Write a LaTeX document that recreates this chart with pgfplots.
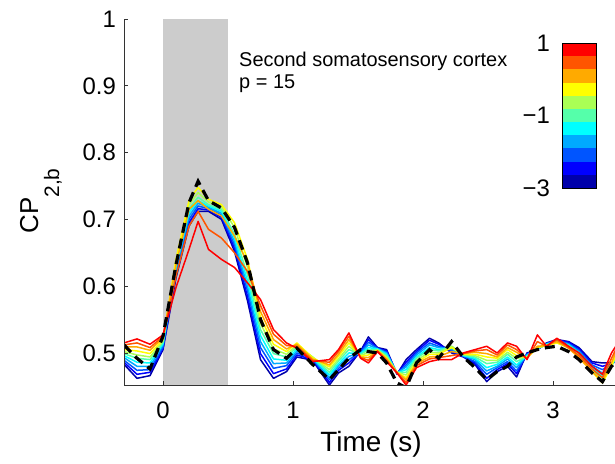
\documentclass[border=0pt]{standalone}
\usepackage{fontspec}
\setmainfont{Liberation Sans}
\usepackage{pgfplots}
\usepackage{pgfplotstable}
\pgfplotsset{compat=1.18}

% jet(11), index 0 = -3 (dark blue) ... index 10 = 1 (red)
\definecolor{jet0}{rgb}{0,0,0.667}
\definecolor{jet1}{rgb}{0,0,1}
\definecolor{jet2}{rgb}{0,0.333,1}
\definecolor{jet3}{rgb}{0,0.667,1}
\definecolor{jet4}{rgb}{0,1,1}
\definecolor{jet5}{rgb}{0.333,1,0.667}
\definecolor{jet6}{rgb}{0.667,1,0.333}
\definecolor{jet7}{rgb}{1,1,0}
\definecolor{jet8}{rgb}{1,0.667,0}
\definecolor{jet9}{rgb}{1,0.333,0}
\definecolor{jet10}{rgb}{1,0,0}
\definecolor{shade}{RGB}{204,204,204}

% t, one column per regularisation level (c0 = -3 ... c10 = 1), d = dashed
\pgfplotstableread{
t c0 c1 c2 c3 c4 c5 c6 c7 c8 c9 c10 d
-0.30 0.483 0.486 0.489 0.493 0.496 0.499 0.502 0.505 0.509 0.512 0.515 0.512
-0.20 0.462 0.468 0.474 0.480 0.486 0.492 0.497 0.503 0.509 0.515 0.521 0.492
-0.10 0.466 0.471 0.475 0.480 0.485 0.490 0.494 0.499 0.504 0.508 0.513 0.476
0.00 0.505 0.507 0.509 0.512 0.514 0.516 0.518 0.520 0.523 0.525 0.527 0.525
0.10 0.612 0.618 0.622 0.626 0.630 0.634 0.638 0.640 0.632 0.615 0.598 0.632
0.20 0.690 0.695 0.700 0.705 0.710 0.716 0.722 0.728 0.715 0.690 0.655 0.725
0.27 0.712 0.716 0.720 0.724 0.728 0.733 0.740 0.748 0.728 0.712 0.697 0.757
0.35 0.712 0.714 0.716 0.718 0.720 0.722 0.726 0.730 0.715 0.685 0.655 0.728
0.45 0.700 0.703 0.706 0.709 0.712 0.715 0.719 0.722 0.705 0.672 0.640 0.717
0.55 0.652 0.657 0.662 0.667 0.672 0.678 0.688 0.695 0.675 0.650 0.628 0.688
0.65 0.578 0.585 0.593 0.600 0.608 0.617 0.628 0.640 0.635 0.622 0.605 0.635
0.75 0.490 0.499 0.508 0.517 0.526 0.535 0.544 0.553 0.562 0.571 0.580 0.550
0.85 0.462 0.469 0.477 0.484 0.491 0.499 0.506 0.513 0.520 0.528 0.535 0.505
0.95 0.472 0.476 0.481 0.485 0.489 0.494 0.498 0.502 0.506 0.511 0.515 0.492
1.03 0.494 0.497 0.500 0.503 0.506 0.509 0.512 0.515 0.513 0.510 0.507 0.507
1.15 0.489 0.490 0.491 0.492 0.493 0.494 0.494 0.493 0.491 0.489 0.487 0.483
1.28 0.452 0.456 0.460 0.463 0.467 0.471 0.475 0.479 0.482 0.486 0.490 0.460
1.35 0.470 0.474 0.477 0.481 0.484 0.488 0.491 0.495 0.498 0.502 0.505 0.475
1.43 0.480 0.485 0.490 0.495 0.500 0.505 0.510 0.515 0.520 0.525 0.530 0.492
1.52 0.503 0.502 0.501 0.500 0.499 0.498 0.496 0.495 0.494 0.493 0.492 0.505
1.58 0.524 0.520 0.516 0.512 0.508 0.505 0.501 0.497 0.493 0.489 0.485 0.502
1.65 0.508 0.507 0.507 0.506 0.506 0.505 0.504 0.504 0.503 0.503 0.502 0.500
1.72 0.505 0.503 0.501 0.500 0.498 0.496 0.494 0.492 0.491 0.489 0.487 0.485
1.80 0.468 0.469 0.469 0.470 0.470 0.471 0.471 0.471 0.471 0.470 0.470 0.455
1.87 0.490 0.486 0.482 0.479 0.475 0.471 0.467 0.463 0.460 0.456 0.452 0.448
1.95 0.505 0.502 0.500 0.497 0.494 0.492 0.489 0.486 0.484 0.481 0.478 0.485
2.05 0.522 0.519 0.515 0.512 0.508 0.505 0.501 0.498 0.494 0.491 0.487 0.505
2.12 0.515 0.513 0.510 0.508 0.505 0.503 0.500 0.498 0.495 0.493 0.490 0.492
2.22 0.500 0.502 0.504 0.506 0.508 0.510 0.510 0.508 0.502 0.496 0.490 0.517
2.31 0.494 0.495 0.495 0.496 0.496 0.497 0.498 0.498 0.499 0.499 0.500 0.494
2.40 0.483 0.485 0.487 0.490 0.492 0.494 0.496 0.498 0.501 0.503 0.505 0.478
2.49 0.457 0.462 0.468 0.473 0.478 0.484 0.489 0.494 0.499 0.505 0.510 0.460
2.57 0.472 0.475 0.478 0.480 0.483 0.486 0.489 0.492 0.494 0.497 0.500 0.472
2.65 0.480 0.484 0.487 0.491 0.494 0.498 0.501 0.505 0.508 0.512 0.515 0.480
2.72 0.464 0.469 0.473 0.478 0.482 0.487 0.492 0.496 0.501 0.505 0.510 0.494
2.80 0.500 0.499 0.498 0.497 0.496 0.495 0.494 0.493 0.492 0.491 0.490 0.500
2.88 0.505 0.505 0.506 0.506 0.507 0.507 0.508 0.508 0.510 0.517 0.527 0.505
2.95 0.515 0.514 0.514 0.513 0.513 0.512 0.512 0.511 0.511 0.510 0.510 0.508
3.03 0.520 0.520 0.519 0.518 0.517 0.516 0.515 0.515 0.517 0.520 0.522 0.510
3.12 0.517 0.516 0.514 0.513 0.512 0.511 0.510 0.508 0.507 0.508 0.510 0.502
3.20 0.508 0.506 0.504 0.502 0.500 0.498 0.496 0.494 0.493 0.496 0.500 0.490
3.30 0.487 0.485 0.482 0.480 0.478 0.476 0.474 0.472 0.472 0.476 0.480 0.470
3.38 0.485 0.480 0.475 0.470 0.466 0.462 0.458 0.455 0.458 0.463 0.468 0.457
3.45 0.485 0.484 0.483 0.482 0.481 0.480 0.480 0.480 0.485 0.492 0.500 0.480
3.50 0.487 0.490 0.492 0.495 0.498 0.501 0.504 0.507 0.510 0.512 0.515 0.490
}\cpdata

\begin{document}
\begin{tikzpicture}
\useasboundingbox (0,0) rectangle (615bp,464bp);
\begin{axis}[
    at={(124bp,79bp)}, anchor=south west,
    scale only axis, width=491bp, height=366bp,
    xmin=-0.3, xmax=3.477, ymin=0.452, ymax=1,
    axis x line*=bottom, axis y line*=left,
    axis line style={-, black!80, line width=0.8bp},
    xtick={0,1,2,3}, ytick={0.5,0.6,0.7,0.8,0.9,1},
    tick align=inside, major tick length=4bp,
    tick style={black!80, line width=0.8bp},
    /pgf/number format/assume math mode=true,
    tick label style={font=\fontsize{24}{24}\selectfont},
    xticklabel style={anchor=base, yshift=-33bp},
    yticklabel style={anchor=east, inner sep=0pt, xshift=-8bp},
    xlabel={Time (s)},
    xlabel style={at={(axis description cs:0.503,-0.183)}, anchor=base,
                  font=\fontsize{28}{28}\selectfont},
    ylabel={CP\raisebox{-21bp}{\fontsize{21}{21}\selectfont 2,b}},
    ylabel style={at={(axis description cs:-0.175,0.503)}, anchor=base, rotate=0,
                  font=\fontsize{26}{26}\selectfont},
    axis on top,
]
\addplot[fill=shade, draw=none] coordinates {(0,0.452) (0.5,0.452) (0.5,1) (0,1)} -- cycle;

\pgfplotsinvokeforeach{0,...,10}{
  \addplot[color=jet#1, line width=1.5bp, line join=round] table[x=t, y=c#1] {\cpdata};
}
\addplot[black, line width=3.2bp, dash pattern=on 10bp off 6bp] table[x=t, y=d] {\cpdata};

\node[anchor=base west, inner sep=0pt, font=\fontsize{20}{20}\selectfont]
  at (axis cs:0.585,0.929) {Second somatosensory cortex};
\node[anchor=base west, inner sep=0pt, font=\fontsize{20}{20}\selectfont]
  at (axis cs:0.585,0.896) {p = 15};
\end{axis}

% colour bar
\begin{axis}[
    at={(562bp,276bp)}, anchor=south west,
    scale only axis, width=34bp, height=145bp,
    xmin=0, xmax=1, ymin=-3, ymax=1,
    xtick=\empty, ytick={-3,-1,1},
    yticklabels={−3,−1,1},
    major tick length=0pt,
    ytick pos=left,
    tick label style={font=\fontsize{24}{24}\selectfont},
    yticklabel style={anchor=east, inner sep=0pt, xshift=-12bp},
    axis line style={black, line width=0.8bp},
    axis on top,
]
\addplot[fill=jet0, draw=none] coordinates {(0,-3) (1,-3) (1,-2.6364) (0,-2.6364)} -- cycle;
\addplot[fill=jet1, draw=none] coordinates {(0,-2.6364) (1,-2.6364) (1,-2.2727) (0,-2.2727)} -- cycle;
\addplot[fill=jet2, draw=none] coordinates {(0,-2.2727) (1,-2.2727) (1,-1.9091) (0,-1.9091)} -- cycle;
\addplot[fill=jet3, draw=none] coordinates {(0,-1.9091) (1,-1.9091) (1,-1.5455) (0,-1.5455)} -- cycle;
\addplot[fill=jet4, draw=none] coordinates {(0,-1.5455) (1,-1.5455) (1,-1.1818) (0,-1.1818)} -- cycle;
\addplot[fill=jet5, draw=none] coordinates {(0,-1.1818) (1,-1.1818) (1,-0.8182) (0,-0.8182)} -- cycle;
\addplot[fill=jet6, draw=none] coordinates {(0,-0.8182) (1,-0.8182) (1,-0.4545) (0,-0.4545)} -- cycle;
\addplot[fill=jet7, draw=none] coordinates {(0,-0.4545) (1,-0.4545) (1,-0.0909) (0,-0.0909)} -- cycle;
\addplot[fill=jet8, draw=none] coordinates {(0,-0.0909) (1,-0.0909) (1,0.2727) (0,0.2727)} -- cycle;
\addplot[fill=jet9, draw=none] coordinates {(0,0.2727) (1,0.2727) (1,0.6364) (0,0.6364)} -- cycle;
\addplot[fill=jet10, draw=none] coordinates {(0,0.6364) (1,0.6364) (1,1) (0,1)} -- cycle;
\end{axis}
\end{tikzpicture}
\end{document}
